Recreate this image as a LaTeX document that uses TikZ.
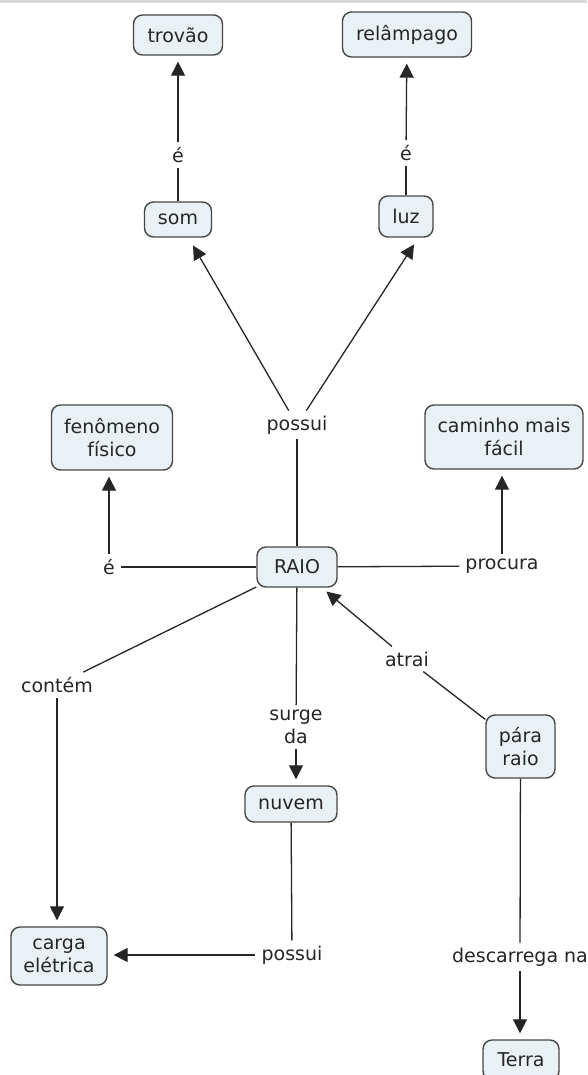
\documentclass[tikz,border=0pt]{standalone}
\usepackage{fontspec}
\setmainfont{DejaVu Sans}
\usetikzlibrary{arrows.meta,calc}
\definecolor{boxfill}{HTML}{EAF1F4}
\definecolor{boxline}{HTML}{474747}
\definecolor{ink}{HTML}{262626}
\begin{document}
\begin{tikzpicture}[x=1pt,y=-1pt,
  concept/.style={draw=boxline, line width=1.4pt, fill=boxfill, rounded corners=9pt,
    align=center, font=\fontsize{19}{23}\selectfont, text=ink, inner sep=0pt},
  linkword/.style={align=center, font=\fontsize{19}{23}\selectfont, text=ink,
    inner xsep=6pt, inner ysep=5pt},
  link/.style={draw=ink, line width=1.3pt},
  arrow/.style={link, -{Triangle[width=14pt,length=14pt]}, shorten >=6pt}]
  \useasboundingbox (0,0) rectangle (587,1075);
  \fill[white] (0,0) rectangle (587,1075);
  \fill[black!15] (0,0) rectangle (587,3);

  % concepts
  \node[concept, minimum width=89pt, minimum height=40pt] (trovao) at (178,35) {trovão};
  \node[concept, minimum width=129pt, minimum height=45pt] (relampago) at (407,34.5) {relâmpago};
  \node[concept, minimum width=67pt, minimum height=35pt] (som) at (178,219.5) {som};
  \node[concept, minimum width=54pt, minimum height=41pt] (luz) at (406,216.5) {luz};
  \node[concept, minimum width=121pt, minimum height=65pt] (fen) at (112,437.5) {fenômeno\\físico};
  \node[concept, minimum width=158pt, minimum height=64pt] (cam) at (504,437) {caminho mais\\fácil};
  \node[concept, minimum width=80pt, minimum height=40pt] (raio) at (297,567) {RAIO};
  \node[concept, minimum width=92pt, minimum height=36pt] (nuvem) at (291,804) {nuvem};
  \node[concept, minimum width=69pt, minimum height=63pt] (para) at (520.5,746.5) {pára\\raio};
  \node[concept, minimum width=96pt, minimum height=58pt] (carga) at (59,956) {carga\\elétrica};
  \node[concept, minimum width=76pt, minimum height=40pt] (terra) at (521,1060) {Terra};

  % linking words
  \node[linkword] (e1) at (178,155) {é};
  \node[linkword] (e2) at (406,153) {é};
  \node[linkword] (poss1) at (297,425) {possui};
  \node[linkword] (eL) at (109,567) {é};
  \node[linkword] (proc) at (502,566) {procura};
  \node[linkword] (contem) at (57,685) {contém};
  \node[linkword] (surge) at (296,727) {surge\\da};
  \node[linkword] (atrai) at (407,659) {atrai};
  \node[linkword] (poss2) at (292,955) {possui};
  \node[linkword] (desc) at (520,957) {descarrega na};

  % connections
  \draw[link] (som) -- (e1);
  \draw[arrow] (e1) -- (trovao);
  \draw[link] (luz) -- (e2);
  \draw[arrow] (e2) -- (relampago);
  \draw[link] (raio) -- (poss1);
  \draw[arrow, shorten >=9pt] (poss1) -- (som);
  \draw[arrow, shorten >=8pt] (poss1) -- ($(luz.south)!0.45!(luz.south east)$);
  \draw[link] (raio) -- (eL);
  \draw[arrow] (eL) -- (eL |- fen.south);
  \draw[link] (raio) -- (proc);
  \draw[arrow] (proc) -- (proc |- cam.south);
  \draw[link] (raio) -- (contem);
  \draw[arrow] (contem) -- (contem |- carga.north);
  \draw[link] (raio) -- (surge);
  \draw[arrow] (surge) -- (surge |- nuvem.north);
  \draw[link] (para) -- (atrai);
  \draw[arrow] (atrai) -- (raio);
  \draw[link] (nuvem) -- (poss2);
  \draw[arrow] (poss2) -- (poss2 -| carga.east);
  \draw[link] (para) -- (desc);
  \draw[arrow] (desc) -- (desc |- terra.north);
\end{tikzpicture}
\end{document}
